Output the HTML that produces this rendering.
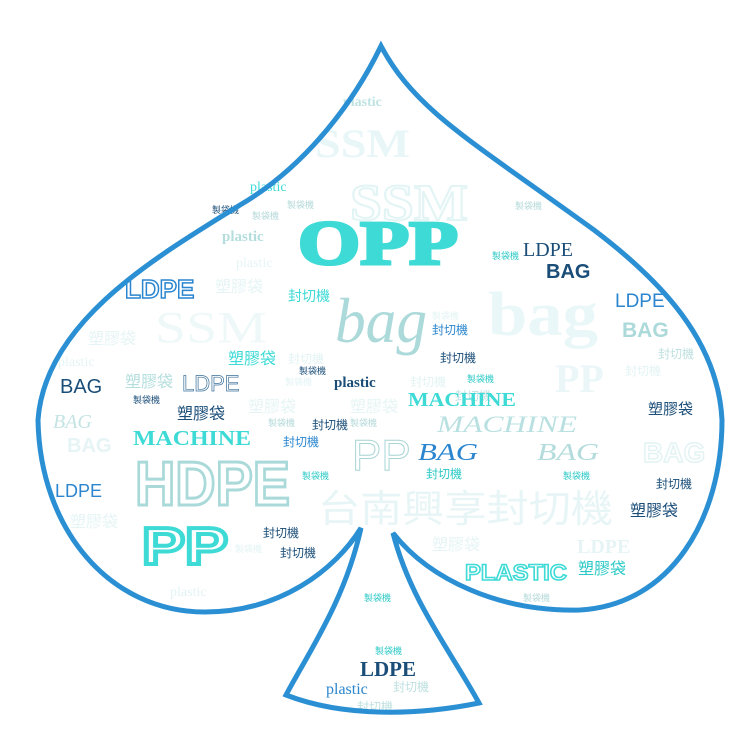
<!DOCTYPE html>
<html><head><meta charset="utf-8"><style>
html,body{margin:0;padding:0;background:#fff;width:739px;height:739px;overflow:hidden}
svg{display:block}
.s{font-family:"Liberation Sans","Noto Sans CJK TC",sans-serif}
.r{font-family:"Liberation Serif","Noto Sans CJK TC",serif}
.c{font-family:"Liberation Sans","Noto Sans CJK TC",sans-serif}
</style></head><body>
<svg width="739" height="739" viewBox="0 0 739 739" xmlns="http://www.w3.org/2000/svg">
<g class="c">
<text x="315" y="157" class="r" font-size="40" font-weight="bold" fill="#e8f6f7" textLength="95" lengthAdjust="spacingAndGlyphs">SSM</text>
<text x="350" y="220" class="r" font-size="52" font-weight="bold" fill="#fff" stroke="#e3f4f5" stroke-width="2" textLength="118" lengthAdjust="spacingAndGlyphs">SSM</text>
<text x="488" y="335" class="r" font-size="62" font-weight="bold" fill="#eaf7f8" textLength="110" lengthAdjust="spacingAndGlyphs">bag</text>
<text x="155" y="342" class="r" font-size="44" fill="#eef8f8" textLength="112" lengthAdjust="spacingAndGlyphs">SSM</text>
<text x="555" y="392" class="r" font-size="40" font-weight="bold" fill="#eaf6f7">PP</text>
<text x="318" y="522" font-size="38" fill="#e8f5f6" textLength="295" lengthAdjust="spacingAndGlyphs">台南興享封切機</text>
<text x="643" y="462" font-size="28" font-weight="bold" fill="#fff" stroke="#e3f3f4" stroke-width="1.5">BAG</text>
<text x="67" y="452" font-size="20" font-weight="bold" fill="#e6f4f5">BAG</text>
<text x="577" y="553" class="r" font-size="20" font-weight="bold" fill="#e6f4f5">LDPE</text>
<g font-size="16" fill="#e6f4f5">
<text x="215" y="292">塑膠袋</text><text x="88" y="344">塑膠袋</text><text x="248" y="412">塑膠袋</text><text x="350" y="412">塑膠袋</text>
<text x="70" y="527">塑膠袋</text><text x="432" y="550">塑膠袋</text></g>
<text x="58" y="366" class="r" font-size="14" fill="#e6f4f5">plastic</text>
<text x="236" y="267" class="r" font-size="14" fill="#e6f4f5">plastic</text>
<text x="170" y="596" class="r" font-size="14" fill="#e3f3f4">plastic</text>
<g font-size="12" fill="#e3f3f4"><text x="288" y="363">封切機</text><text x="625" y="375">封切機</text><text x="410" y="386">封切機</text></g>
<g font-size="9" fill="#e3f3f4"><text x="235" y="552">製袋機</text><text x="285" y="385">製袋機</text><text x="432" y="319">製袋機</text></g>

<text x="343" y="106" class="r" font-size="14" font-weight="bold" fill="#bfe3e3">plastic</text>
<text x="222" y="241" class="r" font-size="15" font-weight="bold" fill="#b4dede">plastic</text>
<text x="335" y="342" class="r" font-size="64" font-style="italic" fill="#acd9d9" textLength="92" lengthAdjust="spacingAndGlyphs">bag</text>
<text x="622" y="337" font-size="21" font-weight="bold" fill="#acd9d9">BAG</text>
<text x="437" y="432" class="r" font-size="23" font-style="italic" fill="#b9e0e0" textLength="140" lengthAdjust="spacingAndGlyphs">MACHINE</text>
<text x="53" y="428" class="r" font-size="20" font-style="italic" fill="#c4e4e4">BAG</text>
<text x="537" y="460" class="r" font-size="24" font-style="italic" fill="#b4dcdc" textLength="62" lengthAdjust="spacingAndGlyphs">BAG</text>
<text x="125" y="387" font-size="16" fill="#b4dede">塑膠袋</text>
<text x="352" y="470" font-size="44" fill="#fff" stroke="#a9d5d5" stroke-width="1">PP</text>
<text x="135" y="505" font-size="62" font-weight="bold" fill="#fff" stroke="#a9d9d9" stroke-width="3" textLength="155" lengthAdjust="spacingAndGlyphs">HDPE</text>
<g font-size="12" fill="#bfe0e0"><text x="658" y="358">封切機</text><text x="393" y="691">封切機</text><text x="357" y="711">封切機</text><text x="455" y="400">封切機</text></g>
<g font-size="9" fill="#b4d8d8"><text x="252" y="219">製袋機</text><text x="287" y="208">製袋機</text><text x="515" y="209">製袋機</text><text x="268" y="426">製袋機</text><text x="350" y="426">製袋機</text><text x="523" y="601">製袋機</text></g>

<text x="298" y="264" class="r" font-size="62" font-weight="bold" fill="#3ddad6" stroke="#3ddad6" stroke-width="3" textLength="160" lengthAdjust="spacingAndGlyphs">OPP</text>
<text x="250" y="191" class="r" font-size="14" fill="#3ddad6">plastic</text>
<text x="228" y="364" font-size="16" fill="#3ddad6">塑膠袋</text>
<text x="288" y="301" font-size="14" fill="#3ddad6">封切機</text>
<text x="408" y="406" class="r" font-size="20" font-weight="bold" fill="#3ddad6" textLength="108" lengthAdjust="spacingAndGlyphs">MACHINE</text>
<text x="133" y="445" class="r" font-size="21" font-weight="bold" fill="#3ddad6" textLength="118" lengthAdjust="spacingAndGlyphs">MACHINE</text>
<text x="142" y="564" font-size="52" font-weight="bold" fill="#fff" stroke="#3ddad6" stroke-width="4" textLength="86" lengthAdjust="spacingAndGlyphs">PP</text>
<text x="465" y="580" font-size="22" font-weight="bold" fill="#fff" stroke="#3ddad6" stroke-width="1.5" textLength="102" lengthAdjust="spacingAndGlyphs">PLASTIC</text>
<text x="578" y="574" font-size="16" fill="#2bc9c6">塑膠袋</text>
<text x="426" y="478" font-size="12" fill="#2bc9c6">封切機</text>
<g font-size="9" fill="#2bc9c6"><text x="492" y="259">製袋機</text><text x="467" y="382">製袋機</text><text x="302" y="479">製袋機</text><text x="563" y="479">製袋機</text><text x="364" y="601">製袋機</text><text x="375" y="654">製袋機</text></g>

<text x="125" y="298" font-size="26" font-weight="bold" fill="#fff" stroke="#2b86cf" stroke-width="1.5">LDPE</text>
<text x="615" y="307" font-size="19" fill="#2b86cf">LDPE</text>
<text x="55" y="497" font-size="18" fill="#2b86cf">LDPE</text>
<text x="418" y="460" class="r" font-size="24" font-style="italic" fill="#2b86cf" textLength="60" lengthAdjust="spacingAndGlyphs">BAG</text>
<text x="326" y="694" class="r" font-size="16" fill="#2b86cf">plastic</text>
<g font-size="12" fill="#2b86cf"><text x="432" y="334">封切機</text><text x="283" y="446">封切機</text></g>

<text x="523" y="256" class="r" font-size="20" fill="#1a4d78">LDPE</text>
<text x="546" y="278" font-size="20" font-weight="bold" fill="#1a4d78">BAG</text>
<text x="60" y="393" font-size="20" fill="#1a4d78">BAG</text>
<text x="182" y="391" font-size="22" fill="#fff" stroke="#3a6f9a" stroke-width="0.7">LDPE</text>
<text x="334" y="387" class="r" font-size="15" font-weight="bold" fill="#1a4d78">plastic</text>
<text x="177" y="419" font-size="16" fill="#1a4d78">塑膠袋</text>
<text x="648" y="414" font-size="15" fill="#1a4d78">塑膠袋</text>
<text x="630" y="516" font-size="16" fill="#1a4d78">塑膠袋</text>
<text x="360" y="676" class="r" font-size="21" font-weight="bold" fill="#1a4d78">LDPE</text>
<g font-size="12" fill="#1a4d78"><text x="440" y="362">封切機</text><text x="312" y="429">封切機</text><text x="656" y="488">封切機</text><text x="263" y="537">封切機</text><text x="280" y="557">封切機</text></g>
<g font-size="9" fill="#1a4d78"><text x="212" y="213">製袋機</text><text x="299" y="374">製袋機</text><text x="133" y="403">製袋機</text></g>
</g>

<path d="M381,46 C350,110 300,170 240,205 C160,255 45,320 38,420 C40,530 110,612 205,612 C280,612 335,570 361,528 C345,600 310,650 286,695 C345,718 420,715 479,703 C450,650 410,600 393,533 C430,580 500,612 580,610 C670,605 722,520 722,420 C718,340 660,280 594,230 C470,140 415,110 381,46 Z" fill="none" stroke="#2b8fd3" stroke-width="5" stroke-linejoin="miter"/>
</svg>
</body></html>
